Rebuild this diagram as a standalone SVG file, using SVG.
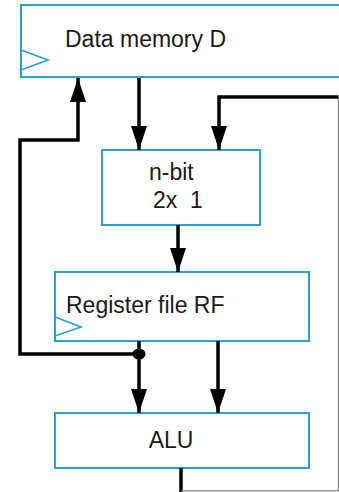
<svg xmlns="http://www.w3.org/2000/svg" width="339" height="492" viewBox="0 0 339 492">
<style>
.box{fill:#fff;stroke:#2a9fd8;stroke-width:2}
.clk{fill:none;stroke:#2a9fd8;stroke-width:1.6}
.lbl{font-family:"Liberation Sans",Arial,sans-serif;font-size:23px;fill:#1a1a1a}
.wire{fill:none;stroke:#000;stroke-width:3.5}
.edge{fill:none;stroke:#888;stroke-width:1.2}
</style>
<defs>
<marker id="ah" markerUnits="userSpaceOnUse" markerWidth="24" markerHeight="16" refX="24" refY="8" orient="auto">
<path d="M0,0 L24,8 L0,16 z" fill="#000"/>
</marker>
</defs>
<rect width="339" height="492" fill="#fff"/>
<g id="data-memory">
<rect class="box" x="21" y="5" width="330" height="72"/>
<polyline class="clk" points="21,50 48,60 21,70"/>
<text class="lbl" x="65" y="47">Data memory D</text>
</g>
<g id="mux">
<rect class="box" x="102" y="150" width="158" height="75"/>
<text class="lbl" x="149" y="180">n-bit</text>
<text class="lbl" x="153" y="208" xml:space="preserve">2x  1</text>
</g>
<g id="register-file">
<rect class="box" x="55" y="272" width="254" height="69"/>
<polyline class="clk" points="55,317 81,327 55,336"/>
<text class="lbl" x="66" y="313">Register file RF</text>
</g>
<g id="alu">
<rect class="box" x="55" y="413" width="254" height="55"/>
<text class="lbl" x="171" y="448" text-anchor="middle">ALU</text>
</g>
<g id="connectors">
<path class="wire" d="M139,354 H20 V140 H78 V78" marker-end="url(#ah)"/>
<path class="wire" d="M139,78 V150" marker-end="url(#ah)"/>
<path class="wire" d="M181,468 V492"/>
<path class="edge" d="M181,490.8 H338.4 V97"/>
<path class="wire" d="M338.5,97 H219 V150" marker-end="url(#ah)"/>
<path class="wire" d="M178,225 V272" marker-end="url(#ah)"/>
<path class="wire" d="M139,341 V413" marker-end="url(#ah)"/>
<path class="wire" d="M218,341 V413" marker-end="url(#ah)"/>
<ellipse cx="139" cy="354" rx="6.5" ry="5.5" fill="#000"/>
</g>
</svg>
